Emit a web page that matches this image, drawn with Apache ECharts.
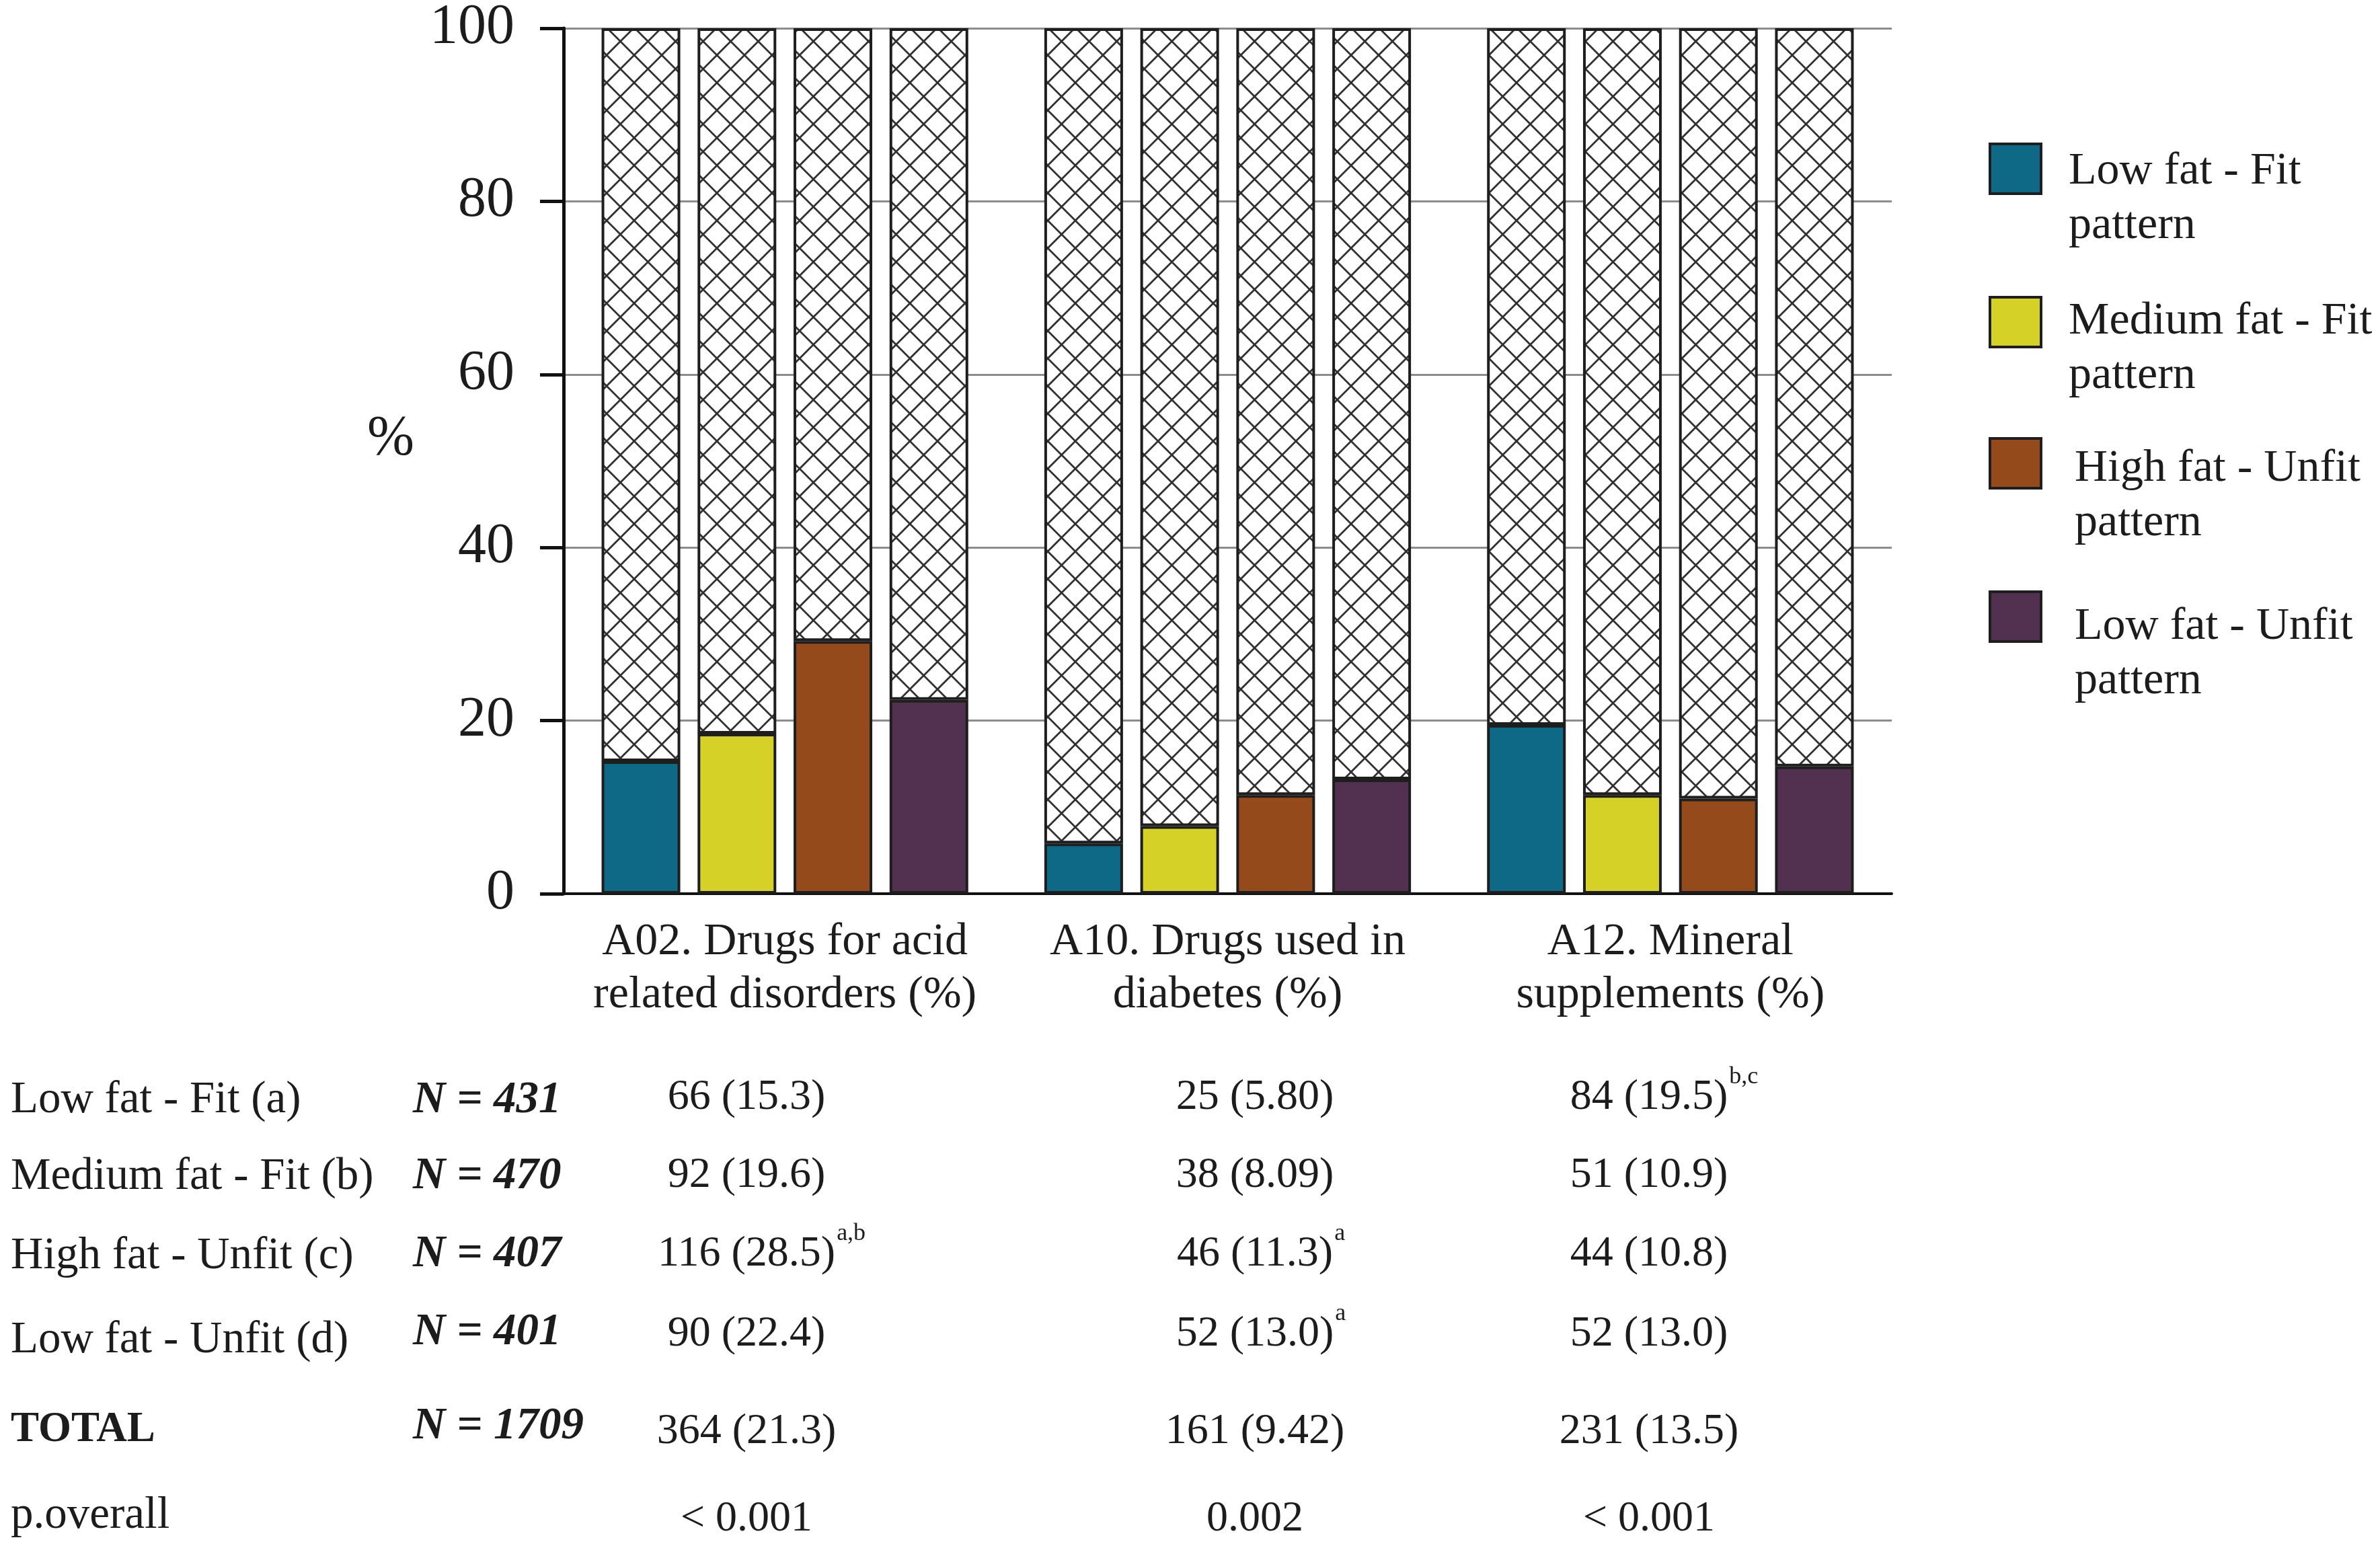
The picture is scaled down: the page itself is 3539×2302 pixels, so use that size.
<!DOCTYPE html>
<html>
<head>
<meta charset="utf-8">
<script src="https://cdn.jsdelivr.net/npm/echarts@6/dist/echarts.min.js"></script>
<style>
html,body{margin:0;padding:0;background:#fff;}
#chart{width:3539px;height:2302px;}
</style>
</head>
<body>
<div id="chart"></div>
<script>
// ---------------- data ----------------
const categories = ['A02. Drugs for acid\nrelated disorders (%)', 'A10. Drugs used in\ndiabetes (%)', 'A12. Mineral\nsupplements (%)'];
const groupNames = ['Low fat - Fit\npattern', 'Medium fat - Fit\npattern', 'High fat - Unfit\npattern', 'Low fat - Unfit\npattern'];
const lowFatFit = [15.3, 5.8, 19.5];
const mediumFatFit = [18.5, 7.8, 11.4];
const highFatUnfit = [29.2, 11.4, 11.0];
const lowFatUnfit = [22.4, 13.2, 14.7];
const yMin = 0, yMax = 100, yStep = 20;

const rowLabels = ['Low fat - Fit (a)', 'Medium fat - Fit (b)', 'High fat - Unfit (c)', 'Low fat - Unfit (d)', 'TOTAL', 'p.overall'];
const rowN = ['N = 431', 'N = 470', 'N = 407', 'N = 401', 'N = 1709', ''];
const colA02 = ['66 (15.3)', '92 (19.6)', '116 (28.5)', '90 (22.4)', '364 (21.3)', '< 0.001'];
const supA02 = ['', '', 'a,b', '', '', ''];
const colA10 = ['25 (5.80)', '38 (8.09)', '46 (11.3)', '52 (13.0)', '161 (9.42)', '0.002'];
const supA10 = ['', '', 'a', 'a', '', ''];
const colA12 = ['84 (19.5)', '51 (10.9)', '44 (10.8)', '52 (13.0)', '231 (13.5)', '< 0.001'];
const supA12 = ['b,c', '', '', '', '', ''];

// ---------------- styles ----------------
const colors = ['#0d6986', '#d5d126', '#954a1b', '#52304f'];
const FONT = 'Liberation Serif';
const TXT = '#1c1c1c';
const BORDER = '#1e1e1e';

function hatchPattern() {
  const w = 41, h = 41;
  const c = document.createElement('canvas');
  c.width = w; c.height = h;
  const ctx = c.getContext('2d');
  ctx.fillStyle = '#ffffff';
  ctx.fillRect(0, 0, w, h);
  ctx.strokeStyle = '#303030';
  ctx.lineWidth = 2.8;
  ctx.beginPath();
  ctx.moveTo(-2, -2); ctx.lineTo(w + 2, h + 2);
  ctx.moveTo(w + 2, -2); ctx.lineTo(-2, h + 2);
  ctx.stroke();
  return c;
}
const hatch = { image: hatchPattern(), repeat: 'repeat' };

const chart = echarts.init(document.getElementById('chart'), null, { renderer: 'canvas', width: 3539, height: 2302 });

const seriesData = [lowFatFit, mediumFatFit, highFatUnfit, lowFatUnfit];
const series = [];
seriesData.forEach((vals, i) => {
  series.push({
    type: 'bar', name: groupNames[i], stack: 's' + i, data: vals,
    barWidth: 117, barGap: '22%',
    itemStyle: { color: colors[i], borderColor: BORDER, borderWidth: 4 },
    silent: true
  });
  series.push({
    type: 'bar', name: 'rest' + i, stack: 's' + i, data: vals.map(v => yMax - v),
    barWidth: 117, barGap: '22%',
    itemStyle: { color: hatch, borderColor: BORDER, borderWidth: 4 },
    silent: true
  });
});

// ---------------- graphic: legend, table, axis name ----------------
const graphic = [];
graphic.push({ type: 'text', x: 581, y: 654, style: { text: '%', font: '84px ' + FONT, fill: TXT, textAlign: 'center', textVerticalAlign: 'middle' } });

const legY = [214, 442, 652, 880];
const legTextX = [3076, 3076, 3085, 3085];
const legTextY = [255, 478, 697, 932];
groupNames.forEach((n, i) => {
  graphic.push({ type: 'rect', shape: { x: 2959, y: legY[i], width: 76, height: 74 }, style: { fill: colors[i], stroke: BORDER, lineWidth: 4 } });
  graphic.push({ type: 'text', x: legTextX[i], y: legTextY[i] - 40, style: { text: n, font: '68px ' + FONT, lineHeight: 81, fill: TXT, textAlign: 'left', textVerticalAlign: 'top' } });
});

// table
const measure = document.createElement('canvas').getContext('2d');
function textW(str, font) { measure.font = font; return measure.measureText(str).width; }
const labelY = [1636, 1750, 1868, 1993, 2127, 2254];
const nY = [1637, 1750, 1866, 1982, 2122];
const valY = [1632, 1748, 1865, 1984, 2129, 2259];
const colX = [1110, 1866, 2452];
const cols = [colA02, colA10, colA12];
const sups = [supA02, supA10, supA12];
rowLabels.forEach((lab, r) => {
  const bold = lab === 'TOTAL';
  graphic.push({ type: 'text', x: 16, y: labelY[r], style: { text: lab, font: (bold ? 'bold 63px ' : '67px ') + FONT, fill: TXT, textAlign: 'left', textVerticalAlign: 'middle' } });
  if (rowN[r]) {
    graphic.push({ type: 'text', x: 614, y: nY[r], style: { text: rowN[r], font: 'italic bold 67px ' + FONT, fill: TXT, textAlign: 'left', textVerticalAlign: 'middle' } });
  }
  cols.forEach((col, c) => {
    const f = '64px ' + FONT;
    graphic.push({ type: 'text', x: colX[c], y: valY[r], style: { text: col[r], font: f, fill: TXT, textAlign: 'center', textVerticalAlign: 'middle' } });
    if (sups[c][r]) {
      const w = textW(col[r], f);
      graphic.push({ type: 'text', x: colX[c] + w / 2 + 2, y: valY[r] - 12, style: { text: sups[c][r], font: '36px ' + FONT, fill: TXT, textAlign: 'left', textVerticalAlign: 'bottom' } });
    }
  });
});

const option = {
  backgroundColor: '#ffffff',
  animation: false,
  grid: { left: 838, top: 41, width: 1975, height: 1288, containLabel: false },
  xAxis: {
    type: 'category', data: categories,
    axisLine: { show: true, lineStyle: { color: '#111', width: 4 } },
    axisTick: { show: false },
    axisLabel: { fontFamily: FONT, fontSize: 68, lineHeight: 79, color: TXT, margin: 33, interval: 0 },
    splitLine: { show: false }
  },
  yAxis: {
    type: 'value', min: yMin, max: yMax, interval: yStep,
    axisLine: { show: true, lineStyle: { color: '#111', width: 5 } },
    axisTick: { show: true, inside: false, length: 35, lineStyle: { color: '#111', width: 5 } },
    axisLabel: { fontFamily: FONT, fontSize: 84, color: TXT, margin: 73 },
    splitLine: { show: true, lineStyle: { color: '#8c8c8c', width: 3 } }
  },
  series: series,
  graphic: graphic
};
chart.setOption(option);
</script>
</body>
</html>
